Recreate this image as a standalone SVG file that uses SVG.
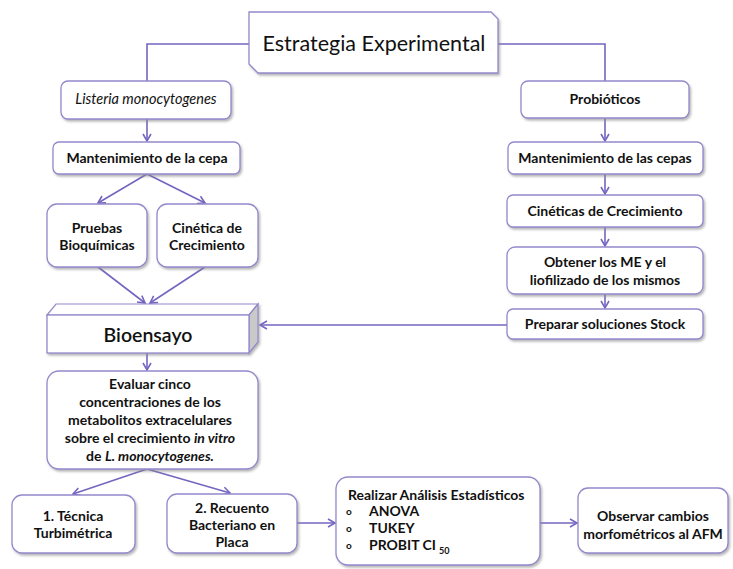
<svg xmlns="http://www.w3.org/2000/svg" width="733" height="569" viewBox="0 0 733 569">
<style>
.box{fill:#fff;stroke:#9488cc;stroke-width:1.3}
.c{fill:none;stroke:#7466c0;stroke-width:1.6}
text{font-family:Lato,"Open Sans","Liberation Sans",sans-serif;fill:#111;text-anchor:middle}
.b{font-weight:bold;font-size:14px}
.l{text-anchor:start}
.bu{font-size:10px;font-weight:bold;text-anchor:start}
</style>
<defs>
<filter id="sh" x="-10%" y="-10%" width="130%" height="140%">
<feDropShadow dx="1.5" dy="2" stdDeviation="1.2" flood-color="#888" flood-opacity="0.6"/>
</filter>
<marker id="ah" markerWidth="10" markerHeight="10" refX="8" refY="5" orient="auto" markerUnits="userSpaceOnUse">
<path d="M1,1 L8,5 L1,9" fill="none" stroke="#7466c0" stroke-width="1.6"/>
</marker>
</defs>

<g id="connectors">
<path class="c" d="M249,44 H147 V81"/>
<path class="c" d="M498,44 H605 V81"/>
<path class="c" d="M147,119 V141" marker-end="url(#ah)"/>
<path class="c" d="M147,174 L98,203" marker-end="url(#ah)"/>
<path class="c" d="M147,174 L205,203" marker-end="url(#ah)"/>
<path class="c" d="M98,267 L145,303" marker-end="url(#ah)"/>
<path class="c" d="M205,267 L150,303" marker-end="url(#ah)"/>
<path class="c" d="M605,118 V141" marker-end="url(#ah)"/>
<path class="c" d="M605,174 V194" marker-end="url(#ah)"/>
<path class="c" d="M605,227 V246" marker-end="url(#ah)"/>
<path class="c" d="M605,294 V308" marker-end="url(#ah)"/>
<path class="c" d="M507,325 H260" marker-end="url(#ah)"/>
<path class="c" d="M147,353 V370" marker-end="url(#ah)"/>
<path class="c" d="M147,469 L73,494" marker-end="url(#ah)"/>
<path class="c" d="M147,469 L230,493" marker-end="url(#ah)"/>
<path class="c" d="M297,523 H335" marker-end="url(#ah)"/>
<path class="c" d="M540,523 H577" marker-end="url(#ah)"/>
</g>

<g id="title">
<path class="box" filter="url(#sh)" d="M249,12 H491 L498,19 V73 H258 L249,64 Z"/>
<text x="374" y="51" font-size="21.5">Estrategia Experimental</text>
</g>

<g id="listeria">
<rect class="box" filter="url(#sh)" x="61" y="81" width="170" height="38" rx="7"/>
<text x="146" y="104" font-size="14.5" font-style="italic">Listeria monocytogenes</text>
</g>
<g id="mant-cepa">
<rect class="box" filter="url(#sh)" x="53" y="142" width="187" height="32" rx="6"/>
<text class="b" x="147" y="163">Mantenimiento de la cepa</text>
</g>
<g id="pruebas">
<rect class="box" filter="url(#sh)" x="47" y="204" width="100" height="63" rx="10"/>
<text class="b" x="97" y="233">Pruebas</text>
<text class="b" x="97" y="250">Bioquímicas</text>
</g>
<g id="cinetica">
<rect class="box" filter="url(#sh)" x="157" y="204" width="101" height="63" rx="10"/>
<text class="b" x="207" y="233">Cinética de</text>
<text class="b" x="207" y="250">Crecimiento</text>
</g>
<g id="bioensayo">
<g filter="url(#sh)">
<polygon points="47,315 56,304 258,304 249,315" fill="#fff" stroke="#9488cc" stroke-width="1.2"/>
<polygon points="249,315 258,304 258,342 249,353" fill="#c9c9c9" stroke="#9488cc" stroke-width="1.2"/>
<rect class="box" x="47" y="315" width="202" height="38"/>
</g>
<text x="148" y="342" font-size="19.5" font-weight="600">Bioensayo</text>
</g>
<g id="evaluar">
<rect class="box" filter="url(#sh)" x="47" y="371" width="211" height="98" rx="12"/>
<text class="b" x="150" y="389">Evaluar cinco</text>
<text class="b" x="150" y="407">concentraciones de los</text>
<text class="b" x="150" y="425">metabolitos extracelulares</text>
<text class="b" x="150" y="443">sobre el crecimiento <tspan font-style="italic">in vitro</tspan></text>
<text class="b" x="150" y="461">de <tspan font-style="italic">L. monocytogenes.</tspan></text>
</g>
<g id="tecnica">
<rect class="box" filter="url(#sh)" x="12" y="495" width="123" height="58" rx="10"/>
<text class="b" x="73" y="521">1. Técnica</text>
<text class="b" x="73" y="538">Turbimétrica</text>
</g>
<g id="recuento">
<rect class="box" filter="url(#sh)" x="167" y="494" width="130" height="59" rx="10"/>
<text class="b" x="232" y="513">2. Recuento</text>
<text class="b" x="232" y="530">Bacteriano en</text>
<text class="b" x="232" y="547">Placa</text>
</g>
<g id="realizar">
<rect class="box" filter="url(#sh)" x="336" y="477" width="204" height="88" rx="12"/>
<text class="b l" x="348" y="500">Realizar Análisis Estadísticos</text>
<text class="bu" x="346" y="515">o</text>
<text class="b l" x="369" y="516">ANOVA</text>
<text class="bu" x="346" y="532">o</text>
<text class="b l" x="369" y="533">TUKEY</text>
<text class="bu" x="346" y="549">o</text>
<text class="b l" x="369" y="550">PROBIT CI<tspan font-size="9" dx="3" dy="4">50</tspan></text>
</g>
<g id="observar">
<rect class="box" filter="url(#sh)" x="578" y="488" width="150" height="65" rx="10"/>
<text class="b" x="653" y="521">Observar cambios</text>
<text class="b" x="653" y="539">morfométricos al AFM</text>
</g>

<g id="probioticos">
<rect class="box" filter="url(#sh)" x="521" y="81" width="168" height="37" rx="7"/>
<text class="b" x="605" y="104">Probióticos</text>
</g>
<g id="mant-cepas">
<rect class="box" filter="url(#sh)" x="508" y="142" width="195" height="32" rx="6"/>
<text class="b" x="605" y="163">Mantenimiento de las cepas</text>
</g>
<g id="cineticas">
<rect class="box" filter="url(#sh)" x="507" y="195" width="196" height="32" rx="6"/>
<text class="b" x="605" y="216">Cinéticas de Crecimiento</text>
</g>
<g id="obtener">
<rect class="box" filter="url(#sh)" x="507" y="247" width="196" height="47" rx="8"/>
<text class="b" x="605" y="267">Obtener los ME y el</text>
<text class="b" x="605" y="285">liofilizado de los mismos</text>
</g>
<g id="preparar">
<rect class="box" filter="url(#sh)" x="507" y="309" width="196" height="30" rx="6"/>
<text class="b" x="605" y="329">Preparar soluciones Stock</text>
</g>
</svg>
